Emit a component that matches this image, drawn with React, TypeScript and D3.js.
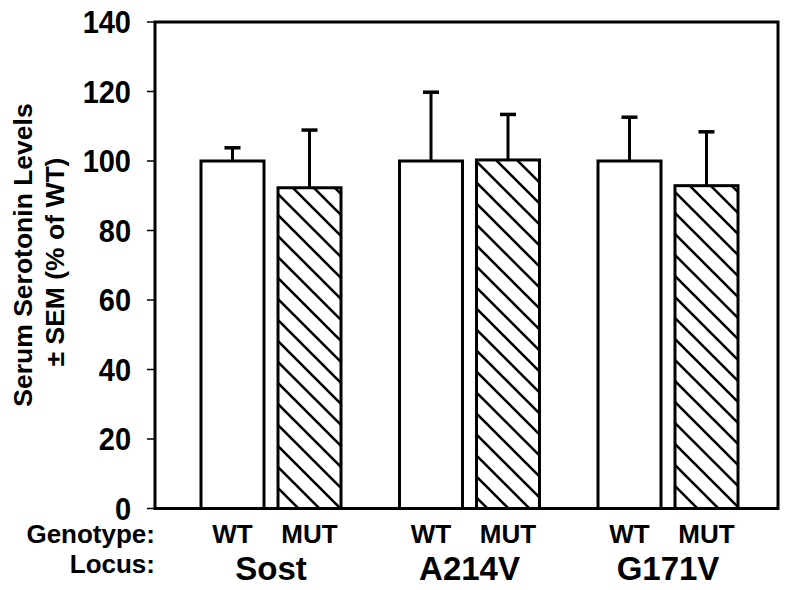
import React from "react";
import * as d3 from "d3";

const loci = ["Sost", "A214V", "G171V"];
const genotypes = ["WT", "MUT"];
const meanWT = [100, 100, 100];
const meanMUT = [92.3, 100.3, 92.9];
const errTopWT = [103.8, 119.8, 112.6];
const errTopMUT = [108.9, 113.4, 108.4];
const yTicks = [0, 20, 40, 60, 80, 100, 120, 140];

const W = 795;
const H = 590;
const left = 155;
const right = 778;
const top = 22;
const bottom = 508.5;
const FONT = "'Liberation Sans', Arial, Helvetica, sans-serif";

export default function App() {
  const y = d3.scaleLinear().domain([0, 140]).range([bottom, top]);
  const x0 = d3.scaleBand<string>().domain(loci).range([171.75, 767.25]).paddingInner(0).paddingOuter(0);
  const x1 = d3
    .scaleBand<string>()
    .domain(genotypes)
    .range([29.25, x0.bandwidth() - 29.25])
    .paddingInner(14 / 77)
    .paddingOuter(0);

  const bars = loci.flatMap((l, i) => [
    { locus: l, g: "WT", v: meanWT[i], e: errTopWT[i] },
    { locus: l, g: "MUT", v: meanMUT[i], e: errTopMUT[i] },
  ]);

  const bw = x1.bandwidth();
  const capW = 16;

  return (
    <svg
      width={W}
      height={H}
      style={{ position: "absolute", left: 0, top: 0, background: "#fff" }}
      fontFamily={FONT}
      fontWeight="bold"
    >
      <defs>
        <pattern id="hatch" patternUnits="userSpaceOnUse" width={21} height={21}>
          <rect width={21} height={21} fill="#fff" />
          <path d="M-2,-2 L23,23 M-12,9 L12,33 M9,-12 L33,12" stroke="#000" strokeWidth={2.6} />
        </pattern>
      </defs>

      {/* y axis ticks & labels */}
      {yTicks.map((t) => (
        <g key={t}>
          <line x1={147} x2={left} y1={y(t)} y2={y(t)} stroke="#000" strokeWidth={1.5} />
          <g transform={`translate(131, ${y(t)}) scale(1, 1.08)`}>
            <text dy="0.36em" textAnchor="end" fontSize={29}>
              {t}
            </text>
          </g>
        </g>
      ))}

      {/* bars */}
      {bars.map((b) => {
        const bx = (x0(b.locus) as number) + (x1(b.g) as number);
        const cx = bx + bw / 2;
        return (
          <g key={b.locus + b.g}>
            <line x1={cx} x2={cx} y1={y(b.v)} y2={y(b.e)} stroke="#000" strokeWidth={3} />
            <line x1={cx - capW / 2} x2={cx + capW / 2} y1={y(b.e)} y2={y(b.e)} stroke="#000" strokeWidth={3.5} />
            <rect
              x={bx}
              y={y(b.v)}
              width={bw}
              height={y(0) - y(b.v)}
              fill={b.g === "WT" ? "#fff" : "url(#hatch)"}
              stroke="#000"
              strokeWidth={3}
            />
          </g>
        );
      })}

      {/* frame */}
      <rect x={left} y={top} width={right - left} height={bottom - top} fill="none" stroke="#000" strokeWidth={3} />

      {/* y axis title */}
      <g transform={`translate(32, 255) rotate(-90)`}>
        <text textAnchor="middle" fontSize={26.5}>Serum Serotonin Levels</text>
      </g>
      <g transform={`translate(64, 262) rotate(-90)`}>
        <text textAnchor="middle" fontSize={26.5}>± SEM (% of WT)</text>
      </g>

      {/* category labels */}
      <text x={155} y={543} textAnchor="end" fontSize={26}>Genotype:</text>
      <text x={155} y={573} textAnchor="end" fontSize={26}>Locus:</text>
      {bars.map((b) => {
        const cx = (x0(b.locus) as number) + (x1(b.g) as number) + bw / 2;
        return (
          <text key={"g" + b.locus + b.g} x={cx} y={543} textAnchor="middle" fontSize={26}>
            {b.g}
          </text>
        );
      })}
      {loci.map((l) => (
        <text key={"l" + l} x={(x0(l) as number) + x0.bandwidth() / 2} y={580} textAnchor="middle" fontSize={33}>
          {l}
        </text>
      ))}
    </svg>
  );
}
